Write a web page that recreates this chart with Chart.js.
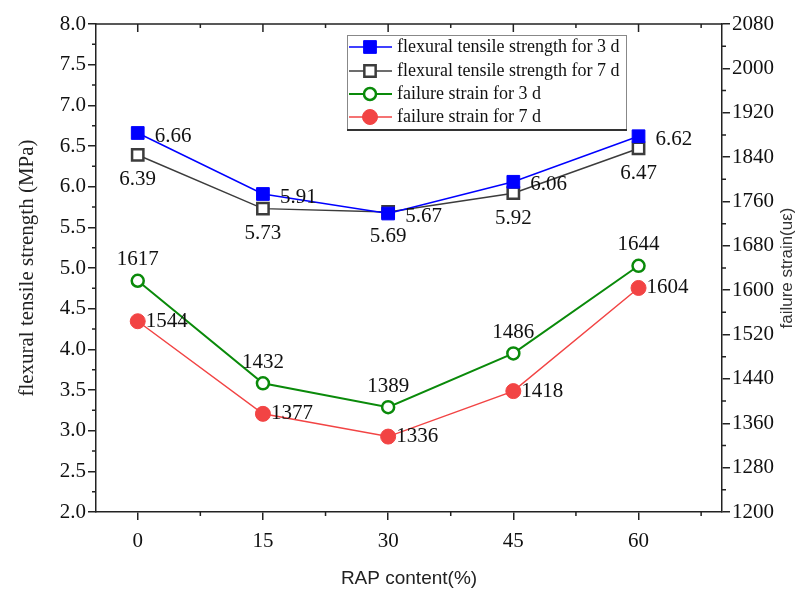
<!DOCTYPE html>
<html>
<head>
<meta charset="utf-8">
<script src="https://cdn.jsdelivr.net/npm/chart.js@4.4.0/dist/chart.umd.min.js"></script>
<style>
  html, body { margin: 0; background: #fff; }
</style>
</head>
<body>
<canvas id="chart" width="812" height="592"></canvas>
<script>
// data
const rapContent = [0, 15, 30, 45, 60];
const strength3d = [6.66, 5.91, 5.67, 6.06, 6.62];
const strength7d = [6.39, 5.73, 5.69, 5.92, 6.47];
const strain3d = [1617, 1432, 1389, 1486, 1644];
const strain7d = [1544, 1377, 1336, 1418, 1604];
const xTicks = [0, 15, 30, 45, 60];
const seriesNames = [
    'flexural tensile strength for 3 d',
    'flexural tensile strength for 7 d',
    'failure strain for 3 d',
    'failure strain for 7 d'
];

const serif = 'Liberation Serif';
const sans = 'Liberation Sans';

function pairs(values) {
    return rapContent.map((x, i) => ({ x: x, y: values[i] }));
}

// where each series puts its value labels
const labelPlace = [
    { dx: 17, dy: 3, align: 'left' },
    { dx: 0, dy: 25, align: 'center' },
    { dx: 0, dy: -21, align: 'center' },
    { dx: 8, dy: 0, align: 'left' }
];

const valueLabels = {
    id: 'valueLabels',
    afterDatasetsDraw(chart) {
        const ctx = chart.ctx;
        ctx.save();
        ctx.font = '21px "' + serif + '"';
        ctx.fillStyle = '#111';
        ctx.textBaseline = 'middle';
        chart.data.datasets.forEach((ds, di) => {
            const p = labelPlace[di];
            ctx.textAlign = p.align;
            chart.getDatasetMeta(di).data.forEach((pt, i) => {
                const v = ds.data[i].y;
                const txt = di < 2 ? v.toFixed(2) : String(v);
                ctx.fillText(txt, pt.x + p.dx, pt.y + p.dy);
            });
        });
        ctx.restore();
    }
};

// frame: top border, mirrored ticks, minor ticks, right title, legend
const frame = {
    id: 'frame',
    afterDraw(chart) {
        const { ctx, chartArea: a, scales } = chart;
        const x = scales.x, yl = scales.y, yr = scales.y1;
        ctx.save();
        ctx.strokeStyle = '#222';
        ctx.lineWidth = 1.5;
        ctx.beginPath();
        ctx.moveTo(a.left - 0.75, a.top);
        ctx.lineTo(a.right + 0.75, a.top);
        xTicks.forEach(v => {
            const px = x.getPixelForValue(v);
            ctx.moveTo(px, a.top);
            ctx.lineTo(px, a.top + 8);
        });
        for (let v = 7.5; v < 70; v += 15) {
            const px = x.getPixelForValue(v);
            ctx.moveTo(px, a.top);
            ctx.lineTo(px, a.top + 4);
            ctx.moveTo(px, a.bottom);
            ctx.lineTo(px, a.bottom + 4);
        }
        for (let v = 2.25; v < 8; v += 0.5) {
            const py = yl.getPixelForValue(v);
            ctx.moveTo(a.left, py);
            ctx.lineTo(a.left - 4, py);
        }
        for (let v = 1240; v < 2080; v += 80) {
            const py = yr.getPixelForValue(v);
            ctx.moveTo(a.right, py);
            ctx.lineTo(a.right + 4, py);
        }
        ctx.stroke();

        // right axis title, reading bottom to top
        ctx.save();
        ctx.translate(787, (a.top + a.bottom) / 2);
        ctx.rotate(-Math.PI / 2);
        ctx.font = '17px "' + sans + '"';
        ctx.fillStyle = '#333';
        ctx.textAlign = 'center';
        ctx.textBaseline = 'middle';
        ctx.fillText('failure strain(uε)', 0, 0);
        ctx.restore();

        // legend box
        const bx = 347, by = 35, bw = 279, bh = 94;
        ctx.fillStyle = '#fff';
        ctx.fillRect(bx, by, bw, bh);
        ctx.lineWidth = 1;
        ctx.strokeStyle = '#888';
        ctx.strokeRect(bx + 0.5, by + 0.5, bw, bh);
        ctx.lineWidth = 2;
        ctx.strokeStyle = '#333';
        ctx.beginPath();
        ctx.moveTo(bx, by + bh + 1);
        ctx.lineTo(bx + bw + 1, by + bh + 1);
        ctx.stroke();

        const rows = [47, 71, 94, 117];
        chart.data.datasets.forEach((ds, i) => {
            const ry = rows[i];
            ctx.lineWidth = ds.borderWidth;
            ctx.strokeStyle = ds.borderColor;
            ctx.beginPath();
            ctx.moveTo(349, ry);
            ctx.lineTo(392, ry);
            ctx.stroke();
            ctx.fillStyle = ds.pointBackgroundColor;
            ctx.strokeStyle = ds.borderColor;
            ctx.lineWidth = ds.pointBorderWidth;
            Chart.helpers.drawPoint(ctx, {
                pointStyle: ds.pointStyle,
                radius: ds.pointRadius,
                rotation: 0,
                borderWidth: ds.pointBorderWidth
            }, 370, ry);
            ctx.fillStyle = '#111';
            ctx.font = '18px "' + serif + '"';
            ctx.textAlign = 'left';
            ctx.textBaseline = 'middle';
            ctx.fillText(ds.label, 397, ry);
        });
        ctx.restore();
    }
};

const tickFont = { family: serif, size: 21 };

new Chart(document.getElementById('chart').getContext('2d'), {
    type: 'line',
    data: {
        datasets: [{
            label: seriesNames[0],
            data: pairs(strength3d),
            yAxisID: 'y',
            borderColor: '#0000ff',
            backgroundColor: '#0000ff',
            pointBackgroundColor: '#0000ff',
            borderWidth: 1.5,
            pointStyle: 'rect',
            pointRadius: 9,
            pointBorderWidth: 1
        }, {
            label: seriesNames[1],
            data: pairs(strength7d),
            yAxisID: 'y',
            borderColor: '#3c3c3c',
            backgroundColor: '#ffffff',
            pointBackgroundColor: '#ffffff',
            borderWidth: 1.5,
            pointStyle: 'rect',
            pointRadius: 8,
            pointBorderWidth: 2.5
        }, {
            label: seriesNames[2],
            data: pairs(strain3d),
            yAxisID: 'y1',
            borderColor: '#0a8a0a',
            backgroundColor: '#ffffff',
            pointBackgroundColor: '#ffffff',
            borderWidth: 2,
            pointStyle: 'circle',
            pointRadius: 6,
            pointBorderWidth: 2.5
        }, {
            label: seriesNames[3],
            data: pairs(strain7d),
            yAxisID: 'y1',
            borderColor: '#f24444',
            backgroundColor: '#f24444',
            pointBackgroundColor: '#f24444',
            borderWidth: 1.5,
            pointStyle: 'circle',
            pointRadius: 7.5,
            pointBorderWidth: 1
        }]
    },
    options: {
        responsive: false,
        animation: false,
        layout: { padding: { top: 24, left: 0, right: 0, bottom: 0 } },
        plugins: { legend: { display: false }, tooltip: { enabled: false } },
        scales: {
            x: {
                type: 'linear',
                min: -5,
                max: 70,
                afterBuildTicks: s => { s.ticks = xTicks.map(v => ({ value: v })); },
                afterFit: s => { s.height = 80; },
                grid: { drawOnChartArea: false, tickLength: 8, color: '#222', lineWidth: 1.5 },
                border: { color: '#222', width: 1.5 },
                ticks: { font: tickFont, color: '#111', padding: 9 },
                title: {
                    display: true,
                    text: 'RAP content(%)',
                    font: { family: sans, size: 19 },
                    color: '#222',
                    padding: { top: 0, bottom: 2 }
                }
            },
            y: {
                position: 'left',
                min: 2,
                max: 8,
                afterFit: s => { s.width = 96; },
                grid: { drawOnChartArea: false, tickLength: 8, color: '#222', lineWidth: 1.5 },
                border: { color: '#222', width: 1.5 },
                ticks: { stepSize: 0.5, font: tickFont, color: '#111', padding: 2,
                    callback: v => v.toFixed(1) },
                title: {
                    display: true,
                    text: 'flexural tensile strength (MPa)',
                    font: { family: serif, size: 21 },
                    color: '#222',
                    padding: { top: 15, bottom: 0 }
                }
            },
            y1: {
                position: 'right',
                min: 1200,
                max: 2080,
                afterFit: s => { s.width = 90; },
                grid: { drawOnChartArea: false, tickLength: 8, color: '#222', lineWidth: 1.5 },
                border: { color: '#222', width: 1.5 },
                ticks: { stepSize: 80, font: tickFont, color: '#111', padding: 2,
                    callback: v => String(v) }
            }
        }
    },
    plugins: [valueLabels, frame]
});
</script>
</body>
</html>
